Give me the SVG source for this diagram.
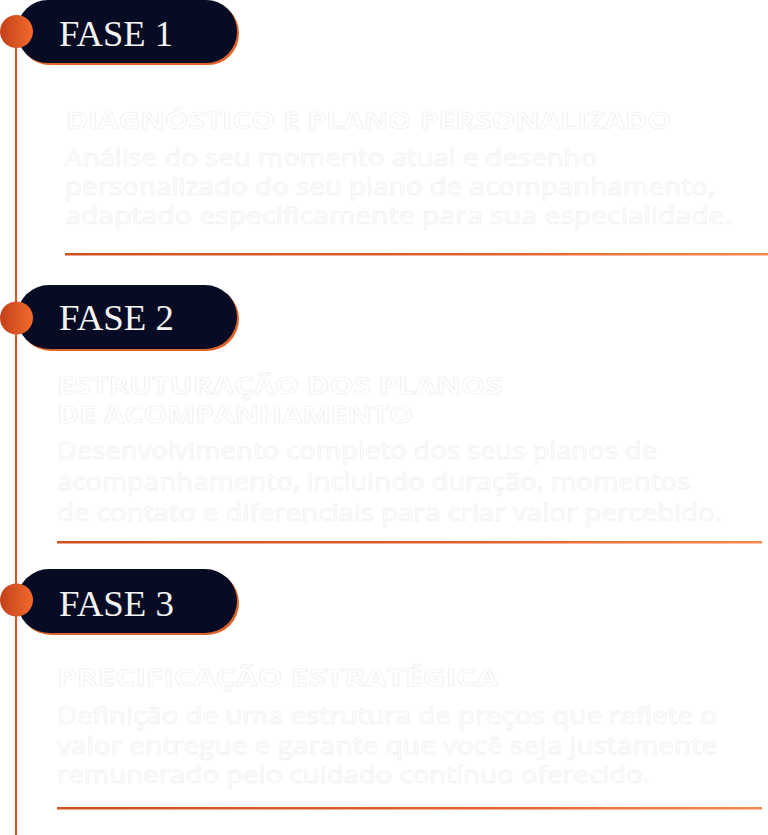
<svg xmlns="http://www.w3.org/2000/svg" width="768" height="835" viewBox="0 0 768 835">
<defs>
<linearGradient id="dot" x1="0" y1="0" x2="1" y2="0"><stop offset="0" stop-color="#c2401a"/><stop offset="1" stop-color="#f26a2c"/></linearGradient>
<linearGradient id="rule" x1="0" y1="0" x2="1" y2="0"><stop offset="0" stop-color="#cf521e"/><stop offset="0.6" stop-color="#e2622a"/><stop offset="1" stop-color="#f58a4c"/></linearGradient>
<style>
.pill{fill:#070c24}
.pshadow{fill:#e0632a}
.dot{fill:url(#dot)}
.fase{font-family:"Liberation Serif","DejaVu Serif",serif;font-size:36px;fill:#f4f4f4}
.title{font-family:"Open Sans","Liberation Sans",Arial,sans-serif;font-weight:bold;font-size:23px;fill:#ffffff;stroke:#eeeeee;stroke-width:0.6}
.body{font-family:"Open Sans","Liberation Sans",Arial,sans-serif;font-size:23px;fill:#ffffff;stroke:#f0eeee;stroke-width:0.6}
.rule{fill:url(#rule)}
.vline{stroke:#d4531f;stroke-width:2;fill:none}
</style>
</defs>
<rect width="768" height="835" fill="#ffffff"/>
<g id="connectors">
<line class="vline" x1="16" y1="32" x2="16" y2="835"/>
</g>
<g id="fase1">
<rect class="pshadow" x="19" y="2" width="220" height="63" rx="31"/>
<rect class="pill" x="17" y="0" width="220" height="63" rx="31"/>
<circle class="dot" cx="16.5" cy="31.5" r="16.5"/>
<text class="fase" x="59" y="46" textLength="114" lengthAdjust="spacingAndGlyphs">FASE 1</text>
</g>
<g id="fase1-content">
<text class="title" x="66" y="129" textLength="605" lengthAdjust="spacingAndGlyphs">DIAGNÓSTICO E PLANO PERSONALIZADO</text>
<text class="body" x="65" y="166" textLength="532" lengthAdjust="spacingAndGlyphs">Análise do seu momento atual e desenho</text>
<text class="body" x="65" y="195" textLength="650" lengthAdjust="spacingAndGlyphs">personalizado do seu plano de acompanhamento,</text>
<text class="body" x="65" y="224" textLength="667" lengthAdjust="spacingAndGlyphs">adaptado especificamente para sua especialidade.</text>
<rect class="rule" x="65" y="253" width="703" height="2.5"/>
</g>
<g id="fase2">
<rect class="pshadow" x="19" y="287" width="220" height="64" rx="32"/>
<rect class="pill" x="17" y="285" width="220" height="64" rx="32"/>
<circle class="dot" cx="16.5" cy="318" r="16.5"/>
<text class="fase" x="59" y="330" textLength="115" lengthAdjust="spacingAndGlyphs">FASE 2</text>
</g>
<g id="fase2-content">
<text class="title" x="57" y="394" textLength="445" lengthAdjust="spacingAndGlyphs">ESTRUTURAÇÃO DOS PLANOS</text>
<text class="title" x="57" y="423" textLength="356" lengthAdjust="spacingAndGlyphs">DE ACOMPANHAMENTO</text>
<text class="body" x="57" y="459" textLength="600" lengthAdjust="spacingAndGlyphs">Desenvolvimento completo dos seus planos de</text>
<text class="body" x="57" y="490" textLength="633" lengthAdjust="spacingAndGlyphs">acompanhamento, incluindo duração, momentos</text>
<text class="body" x="57" y="521" textLength="665" lengthAdjust="spacingAndGlyphs">de contato e diferenciais para criar valor percebido.</text>
<rect class="rule" x="57" y="541" width="705" height="2.5"/>
</g>
<g id="fase3">
<rect class="pshadow" x="19" y="571" width="220" height="64" rx="32"/>
<rect class="pill" x="17" y="569" width="220" height="64" rx="32"/>
<circle class="dot" cx="16.5" cy="600" r="16.5"/>
<text class="fase" x="59" y="616" textLength="115" lengthAdjust="spacingAndGlyphs">FASE 3</text>
</g>
<g id="fase3-content">
<text class="title" x="57" y="686" textLength="441" lengthAdjust="spacingAndGlyphs">PRECIFICAÇÃO ESTRATÉGICA</text>
<text class="body" x="57" y="724" textLength="660" lengthAdjust="spacingAndGlyphs">Definição de uma estrutura de preços que reflete o</text>
<text class="body" x="57" y="754" textLength="660" lengthAdjust="spacingAndGlyphs">valor entregue e garante que você seja justamente</text>
<text class="body" x="57" y="783" textLength="593" lengthAdjust="spacingAndGlyphs">remunerado pelo cuidado contínuo oferecido.</text>
<rect class="rule" x="57" y="807" width="705" height="2.5"/>
</g>
</svg>
